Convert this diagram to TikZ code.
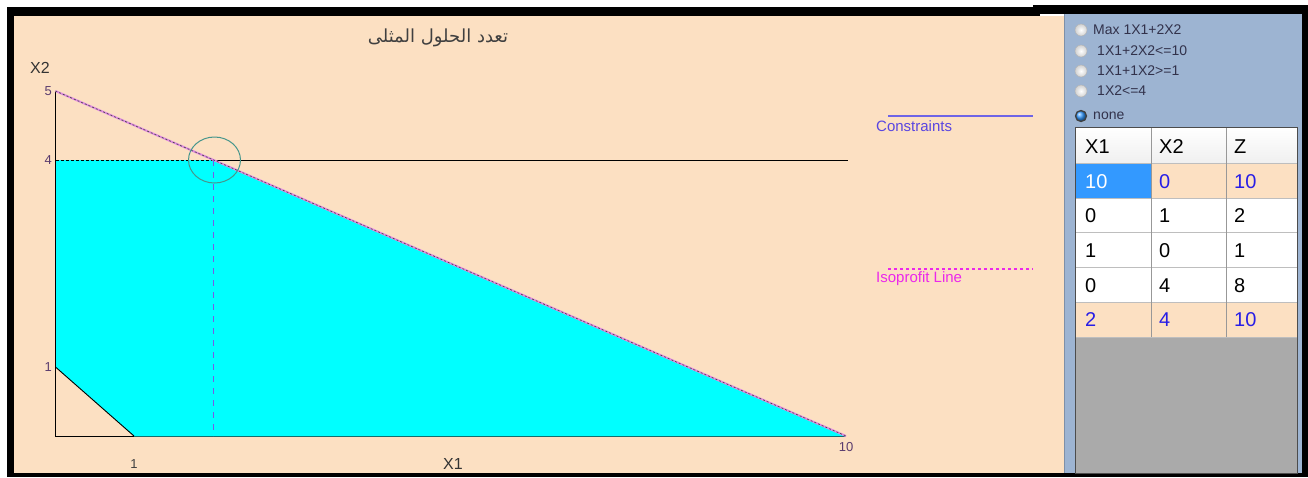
\documentclass[tikz,border=0pt]{standalone}
\usepackage{fontspec}
\setmainfont{Liberation Sans}
\newfontfamily\arabicfont[Script=Arabic]{DejaVu Sans}
\TeXXeTstate=1
\definecolor{peach}{RGB}{252,224,194}
\definecolor{panel}{RGB}{157,180,210}
\definecolor{tgray}{RGB}{170,170,170}
\definecolor{cellblue}{RGB}{51,153,255}
\definecolor{txtblue}{RGB}{40,30,230}
\definecolor{legblue}{RGB}{90,70,225}
\definecolor{legline}{RGB}{110,100,230}
\definecolor{legmag}{RGB}{235,40,235}
\definecolor{circ}{RGB}{70,150,140}
\definecolor{vdash}{RGB}{120,90,230}
\definecolor{ticklab}{RGB}{90,60,110}
\definecolor{pinkline}{RGB}{225,140,225}
\definecolor{radiotxt}{RGB}{50,50,75}
\definecolor{gridc}{RGB}{190,190,190}
\definecolor{edgeteal}{RGB}{20,110,110}
\definecolor{aqua}{RGB}{0,255,255}
\tikzset{
  fs/.style={font=\fontsize{#1}{#1}\selectfont},
  ticklbl/.style={fs=13, text=ticklab, inner sep=0pt},
  axlbl/.style={fs=16, text=black!80, inner sep=0pt},
  cell/.style={fs=20, anchor=west, inner sep=0pt},
  radiotext/.style={fs=14, text=radiotxt, anchor=west, inner sep=0pt},
  radiooff/.style={circle, minimum size=12pt, inner sep=0pt, draw=black!30, inner color=white, outer color=black!18},
  radioon/.style={circle, minimum size=11pt, inner sep=0pt, draw=black!75, line width=1.3pt, ball color=cellblue},
  legtext/.style={fs=15, anchor=west, inner sep=0pt},
}
\begin{document}
\begin{tikzpicture}[x=1pt,y=-1pt]
\useasboundingbox (0,0) rectangle (1308,477);
\fill[white] (0,0) rectangle (1308,477);
% frame
\fill[black] (7,7) rectangle (1040,16);
\fill[black] (1033,5) rectangle (1308,14);
\fill[black] (7,7) rectangle (14,477);
\fill[black] (7,473) rectangle (1308,477);
\fill[black] (1302,5) rectangle (1308,477);
\fill[peach] (14,16) rectangle (1067,473);
\fill[panel] (1064,14) rectangle (1302,473);
\draw[panel!80!black, line width=0.6pt] (1064,14) -- (1064,473);

% plot coordinates
\coordinate (O) at (55.5,436);
\coordinate (Y1) at (55.5,367);
\coordinate (Y4) at (55.5,160);
\coordinate (Y5) at (55.5,91);
\coordinate (X1) at (134,436);
\coordinate (X10) at (846,436);
\coordinate (P) at (213.6,160);
\coordinate (H) at (848,160);
\coordinate (PB) at (213.6,436);

% feasible region
\fill[aqua] (Y1) -- (Y4) -- (P) -- (X10) -- (X1) -- cycle;
\draw[edgeteal, line width=1pt] (X1) -- (X10);
% axes
\draw[black, line width=0.8pt] (Y5) -- (O) -- (X1);
% constraint lines
\draw[black, line width=0.9pt] (Y1) -- (X1);
\draw[black, line width=0.9pt, dash pattern=on 3pt off 2pt] (Y4) -- (P);
\draw[black, line width=0.9pt] (P) -- (H);
\draw[pinkline, line width=2pt] (Y5) -- (X10);
\draw[black!70, line width=0.7pt, dash pattern=on 2pt off 2pt] (Y5) -- (X10);
% optimal point
\draw[vdash, line width=1.4pt, dash pattern=on 6pt off 6pt] (P) -- (PB);
\draw[circ, line width=1pt] (214.5,160) ellipse [x radius=26, y radius=23];

% labels
\node[axlbl] (lx2) at (40,68) {X2};
\node[axlbl] (lx1) at (453,464) {X1};
\node[ticklbl, anchor=east] (t5) at (52,91) {5};
\node[ticklbl, anchor=east] (t4) at (52,160) {4};
\node[ticklbl, anchor=east] (t1) at (52,367) {1};
\node[fs=13, text=black!75, inner sep=0pt] (b1) at (134,464) {1};
\node[ticklbl] (b10) at (846,447) {10};
\node[text=black!75, inner sep=0pt] (title) at (438,38) {\arabicfont\fontsize{18}{20}\selectfont\beginR تعدد الحلول المثلى\endR};

% legend
\coordinate (cl1) at (888,116);
\coordinate (cl2) at (1033,116);
\draw[legline, line width=1.6pt] (cl1) -- (cl2);
\node[legtext, text=legblue] (lcon) at (876,126) {Constraints};
\coordinate (il1) at (888,269);
\coordinate (il2) at (1033,269);
\draw[legmag, line width=1.3pt, dash pattern=on 3pt off 3pt] (il1) -- (il2);
\node[legtext, text=legmag] (liso) at (876,279) {Isoprofit Line};

% radio buttons
\node[radiooff] (r1) at (1081,30) {};
\node[radiooff] (r2) at (1081,51) {};
\node[radiooff] (r3) at (1081,71) {};
\node[radiooff] (r4) at (1081,91) {};
\node[radioon] (r5) at (1081,116) {};
\node[radiotext] (rt1) at (1093,30) {Max 1X1+2X2};
\node[radiotext] (rt2) at (1097,51) {1X1+2X2<=10};
\node[radiotext] (rt3) at (1097,71) {1X1+1X2>=1};
\node[radiotext] (rt4) at (1097,91) {1X2<=4};
\node[radiotext] (rt5) at (1093,116) {none};

% table
\fill[tgray] (1075,337) rectangle (1297,473);
\shade[top color=white, bottom color=black!6] (1075,127) rectangle (1297,163);
\fill[cellblue] (1075,163) rectangle (1151,198);
\fill[peach] (1151,163) rectangle (1297,198);
\fill[white] (1075,198) rectangle (1297,302);
\fill[peach] (1075,302) rectangle (1297,337);
\foreach \yy in {163,198,232,267,302,337} \draw[gridc, line width=0.8pt] (1075,\yy) -- (1297,\yy);
\foreach \xx in {1151,1226} \draw[gridc!80!black, line width=0.8pt] (\xx,127) -- (\xx,337);
\draw[black!70, line width=1pt] (1075,127) rectangle (1297,473);

\node[cell] (h1) at (1085,147) {X1};
\node[cell] (h2) at (1159,147) {X2};
\node[cell] (h3) at (1234,147) {Z};
\node[cell, text=white] (c11) at (1085,182) {10};
\node[cell, text=txtblue] (c12) at (1159,182) {0};
\node[cell, text=txtblue] (c13) at (1234,182) {10};
\node[cell] (c21) at (1085,216) {0};
\node[cell] (c22) at (1159,216) {1};
\node[cell] (c23) at (1234,216) {2};
\node[cell] (c31) at (1085,251) {1};
\node[cell] (c32) at (1159,251) {0};
\node[cell] (c33) at (1234,251) {1};
\node[cell] (c41) at (1085,286) {0};
\node[cell] (c42) at (1159,286) {4};
\node[cell] (c43) at (1234,286) {8};
\node[cell, text=txtblue] (c51) at (1085,320) {2};
\node[cell, text=txtblue] (c52) at (1159,320) {4};
\node[cell, text=txtblue] (c53) at (1234,320) {10};
\end{tikzpicture}
\end{document}
